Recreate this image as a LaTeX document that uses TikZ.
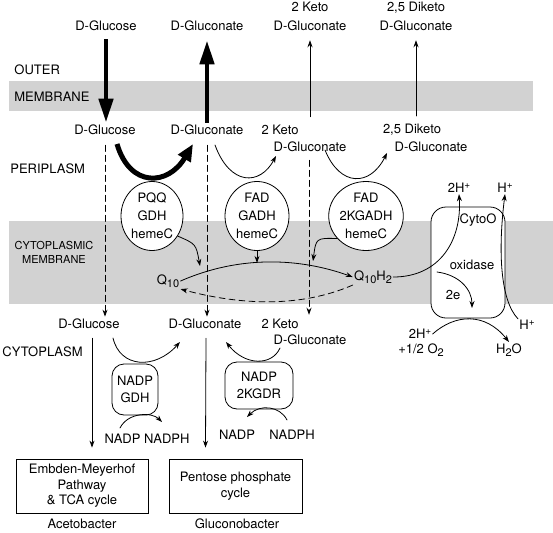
\documentclass[tikz,border=0pt]{standalone}
\usepackage{fontspec}
\setmainfont{TeX Gyre Heros}
\usetikzlibrary{arrows.meta,calc,shapes.geometric}
\newcommand{\subtxt}[1]{\raisebox{-3.5pt}{\fontsize{11pt}{11pt}\selectfont #1}}
\newcommand{\suptxt}[1]{\raisebox{4.5pt}{\fontsize{10pt}{10pt}\selectfont #1}}

\begin{document}
\begin{tikzpicture}[x=1pt,y=-1pt,>={Stealth[length=7pt,width=5pt]},line cap=round,line width=0.8pt,
  font=\fontsize{13pt}{19pt}\selectfont,
  every node/.style={inner sep=1pt},
  txt/.style={align=center},
  small/.style={align=center,font=\fontsize{11pt}{14pt}\selectfont},
  band/.style={fill=gray!35},
  enz/.style={draw,fill=white,ellipse,inner sep=0pt,minimum height=69pt,align=center,font=\fontsize{13pt}{18pt}\selectfont},
  rbox/.style={draw,fill=white,rounded corners=12pt,align=center,font=\fontsize{13pt}{17pt}\selectfont},
  pbox/.style={draw,align=center,minimum height=54pt,font=\fontsize{13pt}{15.5pt}\selectfont},
  thk/.style={line width=4.5pt,line cap=butt,-{Triangle[length=24pt,width=14pt]}},
  thkc/.style={line width=5pt,line cap=butt,-{Triangle[length=17pt,width=14pt]}},
  dsh/.style={dash pattern=on 6pt off 4pt,->}]
\useasboundingbox (0,0) rectangle (553,532);
% membranes
\fill[band] (9,81) rectangle (533,111);
\fill[band] (9,221) rectangle (553,304);
\node (outer) [anchor=west] at (13,70) {OUTER};
\node (outmem) [anchor=west] at (13,97) {MEMBRANE};
\node (peri) [anchor=west] at (9,169) {PERIPLASM};
\node (cytmem) [small] at (54,252) {CYTOPLASMIC\\MEMBRANE};
\node (cyto) [anchor=west] at (1,352) {CYTOPLASM};

% outside
\node (gluOut) at (106,26) {D-Glucose};
\node (gcnOut) at (207,26) {D-Gluconate};
\node (kgOut) [txt] at (310,16.5) {2 Keto\\D-Gluconate};
\node (dkgOut) [txt] at (416,16.5) {2,5 Diketo\\D-Gluconate};

% periplasm
\node (gluPeri) at (105,130) {D-Glucose};
\node (gcnPeri) at (207,130) {D-Gluconate};
\node (kgPeriA) at (280,130) {2 Keto};
\node (kgPeriB) at (310,147) {D-Gluconate};
\node (dkgPeriA) at (412,130) {2,5 Diketo};
\node (dkgPeriB) at (431,147) {D-Gluconate};

\node (pqq) [enz,minimum width=62pt] at (152,216) {PQQ\\GDH\\hemeC};
\node (gadh) [enz,minimum width=64pt] at (257,216) {FAD\\GADH\\hemeC};
\node (kgadh) [enz,minimum width=68pt] at (366,216) {FAD\\2KGADH\\hemeC};

\node (q10) at (168,281) {Q\subtxt{10}};
\node (q10h2) at (373,277) {Q\subtxt{10}H\subtxt{2}};

% cytochrome o oxidase
\node (cox) [draw,fill=white,rounded corners=15pt,minimum width=74pt,minimum height=111pt] at (468,262.5) {};
\node (coxA) at (478,220) {CytoO};
\node (coxB) at (472,265) {oxidase};
\node (twoE) at (453,295) {2e};
\node (hOutA) at (459,188) {2H\suptxt{+}};
\node (hOutB) at (505,188) {H\suptxt{+}};
\node (hIn) at (527,325) {H\suptxt{+}};
\node (hInB) at (420,334) {2H\suptxt{+}};
\node (oxy) at (421,350) {+1/2 O\subtxt{2}};
\node (water) at (509,350) {H\subtxt{2}O};

% cytoplasm
\node (gluCyto) at (89,324) {D-Glucose};
\node (gcnCyto) at (205,324) {D-Gluconate};
\node (kgCytoA) at (280,324) {2 Keto};
\node (kgCytoB) at (310,340) {D-Gluconate};

\node (gdh) [rbox,minimum width=46pt,minimum height=51pt] at (135,389.5) {NADP\\GDH};
\node (kgdr) [rbox,minimum width=68pt,minimum height=47pt] at (259,385.5) {NADP\\2KGDR};
\node (nadpA) at (147,439) {NADP NADPH};
\node (nadpB) at (237,435) {NADP};
\node (nadphB) at (292,435) {NADPH};

\node (emb) [pbox,minimum width=132pt] at (82,486) {Embden-Meyerhof\\Pathway\\\& TCA cycle};
\node (ppc) [pbox,minimum width=133pt] at (235.5,486) {Pentose phosphate\\cycle};
\node (acet) at (82,524) {Acetobacter};
\node (glcb) at (237,524) {Gluconobacter};

% transport
\draw[thk,shorten <=7pt,shorten >=1pt] (gluOut.south) -- (gluOut.south |- gluPeri.north);
\draw[thk,shorten <=1pt,shorten >=8pt] (gcnPeri.north) -- (gcnPeri.north |- gcnOut.south);
\draw[->,shorten <=7pt,shorten >=8pt] (kgOut.south |- kgPeriA.north) -- (kgOut.south);
\draw[->,shorten <=7pt,shorten >=8pt] (dkgOut.south |- dkgPeriA.north) -- (dkgOut.south);
\draw[dsh,shorten <=9pt,shorten >=1pt] (gluPeri.south) -- (gluPeri.south |- gluCyto.north);
\draw[dsh,shorten <=9pt,shorten >=1pt] (gcnPeri.south) -- (gcnPeri.south |- gcnCyto.north);
\draw[dsh,shorten <=7pt,shorten >=3pt] ([xshift=-1pt]kgPeriB.south) -- ([xshift=-1pt]kgPeriB.south |- kgCytoA.north);

% periplasmic oxidations
\coordinate (pqqIn) at (117,144);
\coordinate (pqqOut) at (193,144);
\coordinate (gadhIn) at (215,145);
\coordinate (gadhOut) at (276,156);
\coordinate (kgadhIn) at (325,150);
\coordinate (kgadhOut) at (387,153);
\draw[thkc] (pqqIn) .. controls (130,188) and (168,186) .. (pqqOut);
\draw[->] (gadhIn) .. controls (230,186) and (260,186) .. (gadhOut);
\draw[->] (kgadhIn) .. controls (340,187) and (370,187) .. (kgadhOut);

% electron transfer
\coordinate (qA) at (200,266);
\coordinate (qB) at (313,261);
\draw[->] (pqq.-38) .. controls (196,244) .. (qA);
\draw[->] (gadh.south) -- ++(0,12);
\draw[->] (kgadh.-142) .. controls (316,238) .. (qB);
\draw[->] (q10.east) .. controls (240,255) and (300,258) .. (q10h2.west);
\draw[dsh] (q10h2.south west) .. controls (300,308) and (240,305) .. (q10.south east);
\draw[->] (q10h2.east) .. controls (440,277) and (462,240) .. (hOutA.south);
\draw[->] (437,272) .. controls (460,275) and (472,290) .. (472,308);
\draw[->] (hIn.north west) .. controls (500,300) and (498,250) .. (hOutB.south);
\draw[->] (hInB.east) .. controls (455,314) and (485,312) .. (water.north);

% cytoplasmic reactions
\draw[->] (gluCyto.south) ++(3,8) -- ($(emb.north)+(10,-11)$);
\draw[->] (gcnCyto.south) ++(1,8) -- ($(ppc.north)+(-30,-11)$);
\draw[->] (113,338) .. controls (120,368) and (155,370) .. (180,342);
\draw[->] (120,428) .. controls (128,412) and (152,412) .. (162,422);
\draw[->] (280,348) .. controls (272,366) and (245,366) .. (226,342);
\draw[->] (287,420) .. controls (280,406) and (260,404) .. (247,417);
\end{tikzpicture}
\end{document}
